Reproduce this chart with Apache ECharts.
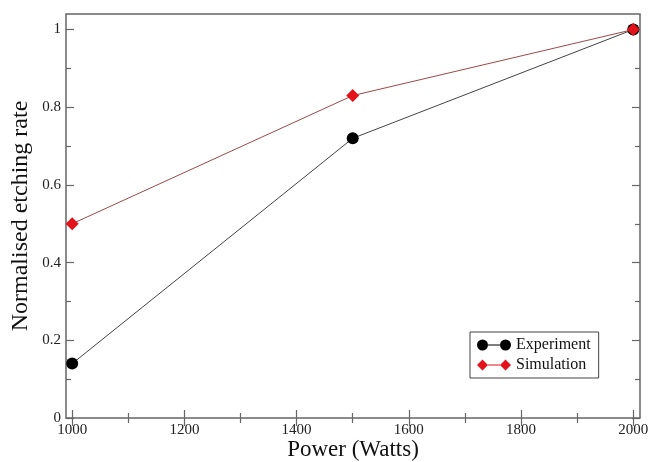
<!DOCTYPE html>
<html>
<head>
<meta charset="utf-8">
<script src="https://cdn.jsdelivr.net/npm/echarts@6/dist/echarts.min.js"></script>
<style>html,body{margin:0;padding:0;background:#fff}#c{width:649px;height:462px}</style>
</head>
<body>
<div id="c"></div>
<script>
const power = [1000, 1500, 2000];
const experiment = [0.14, 0.72, 1.0];
const simulation = [0.50, 0.83, 1.0];
const xMajor = [1000, 1200, 1400, 1600, 1800, 2000];
const xMinor = [1100, 1300, 1500, 1700, 1900];
const yMajor = [0, 0.2, 0.4, 0.6, 0.8, 1];
const yMinor = [0.1, 0.3, 0.5, 0.7, 0.9];

const FONT = 'Liberation Serif';
const AX = '#666';
const X0 = 989, X1 = 2012, Y0 = 0, Y1 = 1.04;

function xa(pos, ticks, len, opts) {
  return Object.assign({
    type: 'value', position: pos, min: X0, max: X1,
    axisLine: { show: false },
    axisTick: { show: true, inside: true, length: len, customValues: ticks, lineStyle: { color: AX, width: 1.2 } },
    axisLabel: { show: false },
    splitLine: { show: false }
  }, opts || {});
}
function ya(pos, ticks, len, opts) {
  return Object.assign({
    type: 'value', position: pos, min: Y0, max: Y1,
    axisLine: { show: false },
    axisTick: { show: true, inside: true, length: len, customValues: ticks, lineStyle: { color: AX, width: 1.2 } },
    axisLabel: { show: false },
    splitLine: { show: false }
  }, opts || {});
}

const chart = echarts.init(document.getElementById('c'), null, { renderer: 'canvas' });
chart.setOption({
  animation: false,
  backgroundColor: '#fff',
  grid: { left: 66, right: 9, top: 14, bottom: 44, outerBoundsMode: 'none', containLabel: false, show: true, borderColor: AX, borderWidth: 1.5, backgroundColor: 'transparent' },
  xAxis: [
    xa('bottom', xMajor, 8, {
      axisLabel: { show: true, customValues: xMajor, formatter: v => String(v), fontFamily: FONT, fontSize: 15, color: '#222', margin: 5 },
      name: 'Power (Watts)', nameLocation: 'middle', nameGap: 20, nameMoveOverlap: false,
      nameTextStyle: { fontFamily: FONT, fontSize: 23, color: '#111' }
    }),
    xa('bottom', xMinor, 5),
    xa('top', xMajor, 8),
    xa('top', xMinor, 5)
  ],
  yAxis: [
    ya('left', yMajor, 8, {
      axisLabel: { show: true, customValues: yMajor, formatter: v => String(v), fontFamily: FONT, fontSize: 15, color: '#222', margin: 5 },
      name: 'Normalised etching rate', nameLocation: 'middle', nameGap: 33, nameMoveOverlap: false,
      nameTextStyle: { fontFamily: FONT, fontSize: 24, color: '#111' }
    }),
    ya('left', yMinor, 5),
    ya('right', yMajor, 8),
    ya('right', yMinor, 5)
  ],
  legend: {
    orient: 'vertical', left: 470, top: 332,
    backgroundColor: '#fff', borderColor: '#444', borderWidth: 1,
    padding: [5, 8, 5, 7], itemGap: 4, itemWidth: 34, itemHeight: 11,
    textStyle: { fontFamily: FONT, fontSize: 16, color: '#111' },
    data: [
      { name: 'Experiment', icon: 'path://M0,5.5A5.5,5.5,0,1,1,11,5.5A5.5,5.5,0,1,1,0,5.5ZM11,5L23,5L23,6L11,6ZM23,5.5A5.5,5.5,0,1,1,34,5.5A5.5,5.5,0,1,1,23,5.5Z' },
      { name: 'Simulation', icon: 'path://M0,5.5L5.5,0L11,5.5L5.5,11ZM11,5L23,5L23,6L11,6ZM23,5.5L28.5,0L34,5.5L28.5,11Z' }
    ]
  },
  series: [
    {
      name: 'Experiment', type: 'line', xAxisIndex: 0, yAxisIndex: 0,
      data: power.map((p, i) => [p, experiment[i]]),
      symbol: 'circle', symbolSize: 12,
      itemStyle: { color: '#000' },
      lineStyle: { color: '#444', width: 1 }, z: 2
    },
    {
      name: 'Simulation', type: 'line', xAxisIndex: 0, yAxisIndex: 0,
      data: power.map((p, i) => [p, simulation[i]]),
      symbol: 'diamond', symbolSize: 13,
      itemStyle: { color: '#e3131b' },
      lineStyle: { color: '#a04848', width: 1 }, z: 3
    }
  ]
});
</script>
</body>
</html>
